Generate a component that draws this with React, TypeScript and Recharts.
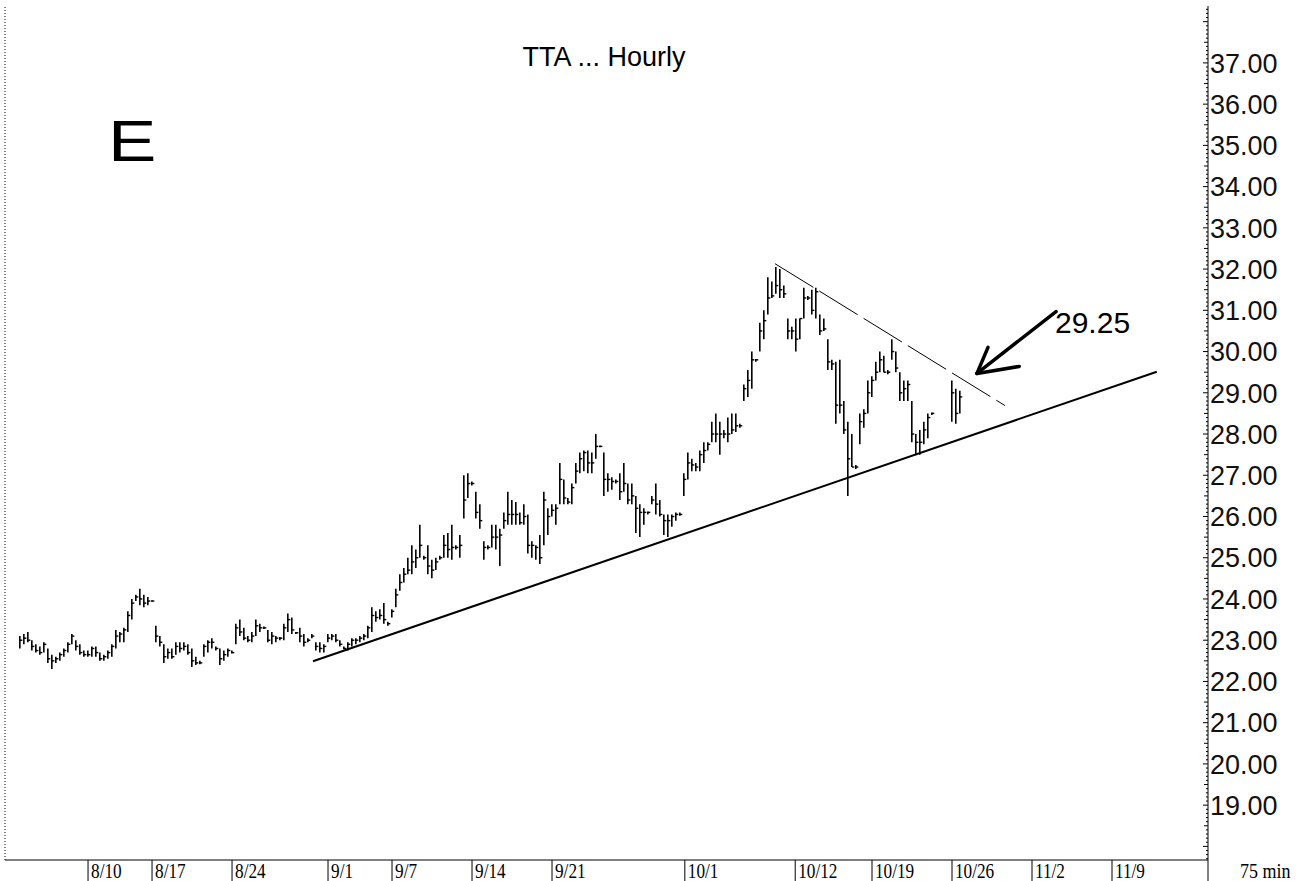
import React from 'react';
import { ComposedChart, Bar, XAxis, YAxis, ReferenceLine } from 'recharts';

type Hlc = [number, number, number] | null;

// TTA 75-minute bars, left to right: [high, low, close]
const barsAug: Hlc[] = [
  [23.1, 22.8, 23.0], [23.15, 22.9, 23.05], [23.2, 22.95, 23.0], [23.0, 22.75, 22.85],
  [22.9, 22.7, 22.75], [22.85, 22.65, 22.7], [22.95, 22.7, 22.9], [22.8, 22.45, 22.55],
  [22.65, 22.3, 22.5], [22.6, 22.45, 22.55], [22.7, 22.5, 22.65], [22.8, 22.6, 22.75],
  [22.95, 22.7, 22.9], [23.15, 22.9, 23.1], [23.0, 22.75, 22.85], [22.9, 22.65, 22.7],
  [22.75, 22.6, 22.65], [22.75, 22.6, 22.65], [22.85, 22.6, 22.8], [22.85, 22.6, 22.7],
  [22.7, 22.5, 22.55], [22.65, 22.5, 22.6], [22.75, 22.55, 22.7], [22.9, 22.6, 22.85],
  [23.25, 22.8, 23.1], [23.2, 22.95, 23.15], [23.3, 22.95, 23.25], [23.7, 23.2, 23.6],
  [24.0, 23.5, 23.9], [24.1, 23.95, 24.05], [24.25, 23.85, 24.0], [24.1, 23.8, 23.9],
  [24.05, 23.85, 23.95], [23.97, 23.93, 23.95], [23.35, 22.95, 23.1], [23.1, 22.85, 22.95],
  [22.9, 22.45, 22.6], [22.8, 22.55, 22.7], [22.8, 22.55, 22.6], [22.95, 22.65, 22.85],
  [22.95, 22.7, 22.8], [22.95, 22.75, 22.85], [22.9, 22.65, 22.7], [22.8, 22.35, 22.5],
  [22.6, 22.4, 22.45], [22.5, 22.42, 22.45], [22.9, 22.6, 22.85], [23.0, 22.7, 22.95],
];

const barsLateAug: Hlc[] = [
  [23.05, 22.8, 22.95], [22.85, 22.75, 22.8], [22.8, 22.4, 22.55], [22.75, 22.5, 22.65],
  [22.8, 22.6, 22.75], [22.75, 22.68, 22.7], [23.4, 22.9, 23.3], [23.5, 23.1, 23.2],
  [23.3, 23.0, 23.05], [23.1, 22.95, 23.0], [23.2, 22.95, 23.1], [23.5, 23.1, 23.35],
  [23.4, 23.2, 23.3], [23.33, 23.27, 23.3], [23.25, 22.95, 23.0], [23.2, 22.9, 23.1],
  [23.1, 22.95, 23.05], [23.08, 23.0, 23.05], [23.4, 23.0, 23.3], [23.65, 23.2, 23.5],
  [23.55, 23.15, 23.25], [23.2, 23.15, 23.18], [23.3, 22.95, 23.1], [23.15, 22.85, 22.95],
  [23.05, 22.95, 23.0], [23.15, 23.05, 23.1], [22.95, 22.75, 22.85], [22.95, 22.7, 22.8],
  [22.9, 22.7, 22.85], [23.15, 22.95, 23.05], [23.15, 23.0, 23.1], [23.15, 22.95, 23.0],
  [23.0, 22.85, 22.9], [22.85, 22.78, 22.8], [22.95, 22.75, 22.9], [23.05, 22.85, 23.0],
  [23.05, 22.9, 23.0], [23.1, 22.95, 23.05], [23.15, 23.0, 23.1], [23.35, 23.05, 23.3],
  [23.8, 23.2, 23.6], [23.7, 23.45, 23.55], [23.75, 23.5, 23.6], [23.9, 23.4, 23.5],
  [23.45, 23.35, 23.4], [23.75, 23.55, 23.7], [24.25, 23.8, 24.1],
];

const barsEarlySep: Hlc[] = [
  [24.6, 24.2, 24.4], [24.75, 24.4, 24.6], [25.0, 24.6, 24.7], [25.3, 24.6, 24.9],
  [25.2, 24.75, 25.0], [25.8, 25.0, 25.3], [25.05, 24.95, 25.0], [25.3, 24.6, 24.8],
  [24.95, 24.5, 24.7], [25.0, 24.7, 24.9], [25.05, 24.95, 25.0], [25.55, 25.0, 25.3],
  [25.6, 25.0, 25.2], [25.8, 24.95, 25.25], [25.3, 25.2, 25.25], [25.55, 25.0, 25.3],
  [27.0, 25.95, 26.4], [27.05, 26.45, 26.8], [26.85, 26.75, 26.8], [26.6, 25.95, 26.1],
  [26.3, 25.7, 25.9], [25.4, 24.95, 25.25], [25.3, 25.2, 25.25], [25.8, 25.25, 25.5],
  [25.8, 25.2, 25.5], [25.7, 24.8, 25.55], [26.1, 25.7, 25.9], [26.6, 25.8, 26.05],
  [26.4, 25.8, 26.05], [26.35, 25.8, 26.05], [26.1, 25.8, 25.85], [26.3, 25.8, 26.0],
  [26.05, 25.1, 25.3], [25.4, 25.0, 25.3], [25.3, 24.95, 25.25], [25.55, 24.85, 25.0],
  [26.6, 25.3, 26.4], [26.2, 25.55, 26.0], [26.3, 26.0, 26.15], [26.3, 25.8, 26.2],
  [27.3, 26.3, 26.9], [26.9, 26.3, 26.45], [26.45, 26.3, 26.35], [26.8, 26.3, 26.7],
  [27.3, 26.8, 27.1], [27.55, 27.05, 27.4], [27.6, 27.1, 27.55], [27.6, 27.05, 27.3],
];

const barsLateSep: Hlc[] = [
  [27.55, 27.05, 27.3], [28.0, 27.4, 27.7], [27.72, 27.68, 27.7], [27.55, 26.5, 26.9],
  [27.05, 26.6, 26.9], [26.95, 26.65, 26.85], [26.9, 26.8, 26.85], [27.05, 26.4, 26.6],
  [27.3, 26.6, 26.8], [26.8, 26.3, 26.4], [26.8, 26.3, 26.5], [26.5, 25.6, 26.2],
  [26.3, 25.5, 26.1], [26.2, 25.8, 26.1], [26.12, 26.05, 26.1], [26.5, 26.3, 26.4],
  [26.8, 26.05, 26.3], [26.4, 26.0, 26.05], [26.05, 25.55, 25.9], [26.05, 25.5, 25.9],
  [26.05, 25.75, 26.0], [26.1, 25.9, 26.05], [26.1, 26.02, 26.05], [27.05, 26.5, 26.9],
  [27.55, 26.9, 27.3], [27.4, 27.1, 27.25], [27.3, 27.1, 27.2], [27.6, 27.1, 27.5],
  [27.8, 27.3, 27.6], [27.8, 27.6, 27.75], [28.3, 27.8, 28.0], [28.5, 27.8, 28.0],
  [28.3, 27.5, 28.0], [28.1, 27.9, 28.0], [28.4, 27.8, 28.0], [28.5, 28.0, 28.1],
  [28.5, 28.05, 28.2], [28.25, 28.15, 28.2], [29.2, 28.8, 29.1], [29.55, 28.9, 29.3],
  [30.0, 29.1, 29.8], [29.82, 29.75, 29.8], [30.7, 30.0, 30.5], [31.0, 30.3, 30.75],
  [31.8, 30.9, 31.3], [31.7, 31.3, 31.35], [32.05, 31.4, 31.6],
];

const barsOct: Hlc[] = [
  [32.0, 31.3, 31.5], [31.6, 31.3, 31.4], [30.8, 30.3, 30.5], [30.6, 30.3, 30.5],
  [30.8, 30.0, 30.3], [30.8, 30.3, 30.8], [31.55, 30.8, 31.3], [31.35, 31.25, 31.3],
  [31.5, 30.9, 31.0], [31.55, 30.8, 31.45], [30.9, 30.4, 30.5], [30.8, 30.5, 30.55],
  [30.3, 29.55, 29.75], [29.8, 29.55, 29.7], [29.75, 28.25, 28.7], [29.8, 28.5, 28.7],
  [28.8, 28.0, 28.1], [28.3, 26.5, 27.4], [28.0, 27.2, 27.2], [27.25, 27.15, 27.2],
  [28.5, 27.75, 28.3], [28.6, 28.15, 28.5], [29.3, 28.5, 29.0], [29.4, 28.9, 29.3],
  [29.75, 29.3, 29.5], [30.0, 29.5, 29.8], [29.9, 29.5, 29.5], [29.55, 29.45, 29.5],
  [30.3, 29.8, 30.0], [30.0, 29.5, 29.6], [29.5, 28.8, 29.0], [29.3, 28.8, 29.1],
  [29.3, 28.8, 29.2], [28.8, 27.8, 28.0], [28.0, 27.5, 27.8], [28.1, 27.5, 27.8],
  [28.3, 27.75, 28.1], [28.5, 27.9, 28.4], [28.52, 28.46, 28.5],
  null, null, null, null,
  [29.3, 28.3, 29.0], [29.1, 28.25, 28.5], [29.05, 28.5, 28.9],
];

// x axis is in trading days, 8/10 = 0; four bars per day slot
const FIRST_BAR = -4.25;
const BAR_STEP = 0.25;
const X_MIN = -5.19;
const X_MAX = 70;
const Y_MIN = 17.67;
const Y_MAX = 38.38;

const dateTicks = [0, 4, 9, 15, 19, 24, 29, 37.3, 44.2, 49, 54, 59, 64];
const dateLabels = ['8/10', '8/17', '8/24', '9/1', '9/7', '9/14', '9/21', '10/1', '10/12', '10/19', '10/26', '11/2', '11/9'];
const priceLabels = [19, 20, 21, 22, 23, 24, 25, 26, 27, 28, 29, 30, 31, 32, 33, 34, 35, 36, 37];

// hand drawn lines
const supportLine = [{ x: 14.06, y: 22.49 }, { x: 66.8, y: 29.51 }];
const resistanceLine = [{ x: 42.94, y: 32.13 }, { x: 57.31, y: 28.69 }];
const arrowShaft = [{ x: 60.5, y: 30.97 }, { x: 55.56, y: 29.47 }];
const arrowWingUp = [{ x: 55.56, y: 29.47 }, { x: 56.25, y: 30.1 }];
const arrowWingSide = [{ x: 55.56, y: 29.47 }, { x: 58.2, y: 29.64 }];

const allBars = [...barsAug, ...barsLateAug, ...barsEarlySep, ...barsLateSep, ...barsOct];
const data = allBars
  .map((b, i) => (b ? { x: FIRST_BAR + i * BAR_STEP, range: [b[1], b[0]], high: b[0], low: b[1], close: b[2] } : null))
  .filter((d) => d !== null);

const priceTicks: number[] = [];
for (let t = 177; t <= 383; t++) priceTicks.push(t / 10);

const sans = 'Liberation Sans, Arial, sans-serif';
const serif = 'Liberation Serif, Times New Roman, serif';

function HlcBar(props: any) {
  const { x, y, width, height, payload } = props;
  if (!payload || y == null || height == null) return null;
  const top = Math.min(y, y + height);
  const bottom = Math.max(y, y + height, top + 1.5);
  const cx = x + width / 2;
  const span = payload.high - payload.low;
  const cy = span > 0 ? top + ((payload.high - payload.close) / span) * (bottom - top) : top;
  return (
    <g>
      <line x1={cx} x2={cx} y1={top} y2={bottom} stroke="#000" strokeWidth={1.6} />
      <line x1={cx} x2={cx + 2.5} y1={cy} y2={cy} stroke="#000" strokeWidth={1.4} />
    </g>
  );
}

function PriceTick({ x, y, payload }: any) {
  const v = payload.value;
  const whole = Math.abs(v - Math.round(v)) < 1e-6;
  const half = Math.abs(v * 2 - Math.round(v * 2)) < 1e-6;
  const len = whole ? 5 : half ? 4 : 2;
  const labelled = whole && priceLabels.includes(Math.round(v));
  return (
    <g>
      <line x1={x - len} x2={x} y1={y} y2={y} stroke="#000" />
      {labelled && (
        <text x={x + 2} y={y} dy="0.36em" fontFamily={sans} fontSize={27} fill="#111">
          {v.toFixed(2)}
        </text>
      )}
    </g>
  );
}

function DateTick({ x, y, payload }: any) {
  const i = dateTicks.indexOf(payload.value);
  return (
    <g>
      <line x1={x} x2={x} y1={y} y2={y + 21} stroke="#000" />
      {i >= 0 && (
        <text
          transform={`translate(${x + 3},${y + 18}) scale(0.82,1)`}
          fontFamily={serif}
          fontSize={21}
          fill="#000"
        >
          {dateLabels[i]}
        </text>
      )}
    </g>
  );
}

export default function App() {
  return (
    <div style={{ position: 'absolute', left: 0, top: 0, width: 1303, height: 881, background: '#fff' }}>
      <ComposedChart width={1303} height={881} data={data} margin={{ top: 6, right: 0, bottom: 0, left: 5 }}>
        <XAxis
          dataKey="x"
          type="number"
          domain={[X_MIN, X_MAX]}
          allowDataOverflow
          ticks={[...dateTicks, X_MAX]}
          interval={0}
          height={21}
          tickSize={0}
          tickMargin={0}
          axisLine={{ stroke: '#000' }}
          tick={<DateTick />}
        />
        <YAxis
          orientation="right"
          type="number"
          domain={[Y_MIN, Y_MAX]}
          allowDataOverflow
          ticks={priceTicks}
          interval={0}
          width={95}
          tickSize={0}
          tickMargin={0}
          axisLine={{ stroke: '#000' }}
          tick={<PriceTick />}
        />
        <ReferenceLine x={X_MIN} stroke="#000" strokeDasharray="1 2" />
        <Bar dataKey="range" barSize={4} isAnimationActive={false} shape={<HlcBar />} />
        <ReferenceLine segment={supportLine} stroke="#000" strokeWidth={2} />
        <ReferenceLine segment={resistanceLine} stroke="#000" strokeWidth={1} strokeDasharray="45 7" />
        <ReferenceLine segment={arrowShaft} stroke="#000" strokeWidth={3.5} strokeLinecap="round" />
        <ReferenceLine segment={arrowWingUp} stroke="#000" strokeWidth={3.5} strokeLinecap="round" />
        <ReferenceLine segment={arrowWingSide} stroke="#000" strokeWidth={3.5} strokeLinecap="round" />
      </ComposedChart>
      <svg width={1303} height={881} style={{ position: 'absolute', left: 0, top: 0, pointerEvents: 'none' }}>
        <text x={604} y={66} textAnchor="middle" fontFamily={sans} fontSize={27} fill="#000">TTA ... Hourly</text>
        <text transform="translate(108,161) scale(1.25,1)" fontFamily={sans} fontSize={58} fill="#000">E</text>
        <text x={1055} y={333} fontFamily={sans} fontSize={30} fill="#000">29.25</text>
        <text transform="translate(1240,878) scale(0.9,1)" fontFamily={serif} fontSize={20} fill="#000">75  min</text>
      </svg>
    </div>
  );
}
